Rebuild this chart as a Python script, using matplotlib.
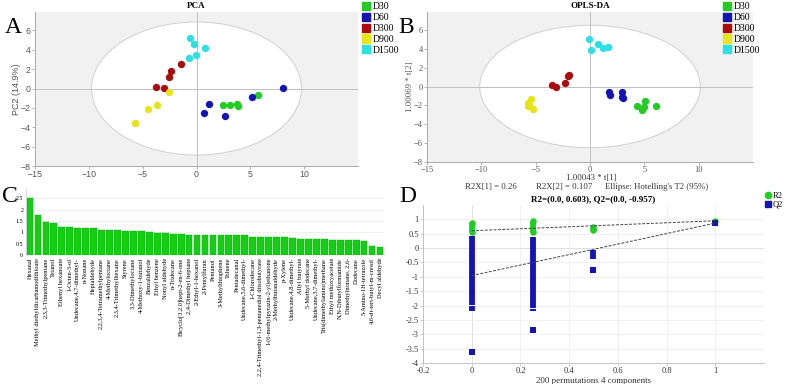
import matplotlib
matplotlib.use("Agg")
import matplotlib.pyplot as plt
import numpy as np
from matplotlib.patches import Ellipse, Patch
from matplotlib.lines import Line2D

# ---- data ----
groups = ["D30", "D60", "D300", "D900", "D1500"]
group_colors = ["#22cc22", "#1414b4", "#a80c0c", "#e8e41c", "#2ce0e4"]

# PCA scores (t1, t2) per group
pca_x = {
    "D30": [2.5, 3.12, 3.73, 3.89, 5.68],
    "D60": [1.2, 0.74, 2.65, 5.15, 8.02],
    "D300": [-1.48, -2.35, -2.56, -3.8, -3.0],
    "D900": [-2.56, -3.64, -4.5, -5.7, -5.75],
    "D1500": [-0.59, -0.28, 0.83, -0.09, -0.74],
}
pca_y = {
    "D30": [-1.7, -1.7, -1.57, -1.78, -0.71],
    "D60": [-1.64, -2.5, -2.8, -0.91, 0.01],
    "D300": [2.52, 1.77, 1.18, 0.19, 0.08],
    "D900": [-0.33, -1.67, -2.12, -3.6, -3.55],
    "D1500": [5.2, 4.55, 4.2, 3.42, 3.14],
}

# OPLS-DA scores
opls_x = {
    "D30": [4.29, 5.09, 5.0, 4.82, 6.04],
    "D60": [1.78, 1.81, 2.9, 3.04, 2.98],
    "D300": [-2.0, -1.96, -3.5, -3.1, -2.27],
    "D900": [-5.46, -5.74, -5.67, -5.28, -5.6],
    "D1500": [-0.06, 0.7, 0.12, 1.17, 1.63],
}
opls_y = {
    "D30": [-2.02, -1.49, -2.16, -2.48, -2.06],
    "D60": [-0.53, -0.89, -0.6, -1.24, -1.06],
    "D300": [1.13, 1.24, 0.14, -0.1, 0.35],
    "D900": [-1.31, -1.7, -2.09, -2.41, -1.9],
    "D1500": [5.03, 4.47, 3.83, 4.08, 4.22],
}

# VIP values
vip_names = [
    "Hexanal", "Methyl diethyldicarbamodithioate", "2,3,3-Trimethylpentane", "Tetanol",
    "Ethenyl hexanoate", "1-Octen-3-ol", "Undecane,4,7-dimethyl-", "n-Nonane",
    "Heptaldehyde", "2,2,3,4-Tetramethylpentane", "4-Methyloctane", "2,3,4-Trimethylhexane",
    "Styrene", "3,3-Dimethyloctane", "4-Methoxy-1-butanol", "Benzaldehyde",
    "Ethyl benzene", "Nonyl aldehyde", "n-Tridecane", "Bicyclo[3.2.0]hept-2-en-6-one",
    "2,4-Dimethyl heptane", "2-Ethyl-1-hexanol", "2-Pentylfuran", "Pentanol",
    "3-Methylthiophene", "Toluene", "Pentadecanal", "Undecane,5,6-dimethyl-",
    "1-Chlorodecane", "2,2,4-Trimethyl-1,3-pentanediol diisobutyrate",
    "1-(6-methylpyrazin-2-yl)ethanone", "2-Methylbutanaldehyde", "p-Xylene",
    "Undecane,4,8-dimethyl-", "Allyl butyrate", "5-Methyl dodecane",
    "Undecane,3,7-dimethyl-", "Tris(dimethylamino)methane", "Ethyl methoxyacetate",
    "N,N-Dibutylformamide", "Dimethylnonane, 2,6-", "Dodecane", "5-Amino-1H-tetrazole",
    "4,6-di-tert-butyl-m-cresol", "Decyl aldehyde",
]
vip_values = [
    2.52, 1.77, 1.47, 1.41, 1.24, 1.22, 1.20, 1.19, 1.18, 1.12, 1.10, 1.09,
    1.04, 1.04, 1.04, 1.00, 0.98, 0.97, 0.94, 0.91, 0.90, 0.89, 0.89, 0.88,
    0.87, 0.87, 0.86, 0.86, 0.81, 0.80, 0.78, 0.77, 0.77, 0.73, 0.72, 0.71,
    0.69, 0.69, 0.68, 0.67, 0.65, 0.64, 0.63, 0.39, 0.36,
]

# permutation test: dense columns given as (x, low, high), plus single points
r2_cols_x = [0, 0.25]
r2_cols_low = [0.56, 0.55]
r2_cols_high = [0.86, 0.95]
r2_pts_x = [0.5, 0.5, 0.5, 1.0]
r2_pts_y = [0.62, 0.66, 0.72, 0.95]
q2_cols_x = [0, 0, 0.25, 0.25, 0.5]
q2_cols_low = [-1.97, -2.2, -2.07, -2.2, -0.38]
q2_cols_high = [0.42, -2.03, 0.38, -2.12, -0.05]
q2_pts_x = [0, 0.25, 0.5, 1.0]
q2_pts_y = [-3.63, -2.85, -0.75, 0.87]
r2_intercept, q2_intercept = 0.603, -0.957
r2_end, q2_end = 0.95, 0.87

SERIF = "Liberation Serif"
SANS = "Liberation Sans"
GRAY = "#555555"

fig = plt.figure(figsize=(7.88, 3.84), dpi=100)


def score_panel(ax, xs, ys, ell_w, ell_h, tick_family, tick_size):
    ax.set_facecolor("#f1f1f1")
    ax.add_patch(Ellipse((0, 0), 2 * ell_w, 2 * ell_h, facecolor="white",
                         edgecolor="#d0d0d0", lw=0.7, zorder=1))
    ax.axhline(0, color="#c0c0c0", lw=0.7, zorder=2)
    ax.axvline(0, color="#c0c0c0", lw=0.7, zorder=2)
    for g, c in zip(groups, group_colors):
        ax.scatter(xs[g], ys[g], s=28, color=c, zorder=3, linewidths=0)
    ax.set_xlim(-15, 15)
    ax.set_ylim(-8, 7.9)
    ax.set_xticks([-15, -10, -5, 0, 5, 10])
    ax.set_yticks([-8, -6, -4, -2, 0, 2, 4, 6])
    for s in ["top", "right"]:
        ax.spines[s].set_visible(False)
    for s in ["left", "bottom"]:
        ax.spines[s].set_color("#aaaaaa")
        ax.spines[s].set_linewidth(0.7)
    ax.tick_params(length=2, width=0.6, color="#aaaaaa", labelsize=tick_size,
                   labelcolor=GRAY, pad=1)
    for lab in ax.get_xticklabels() + ax.get_yticklabels():
        lab.set_family(tick_family)


def group_legend(x, y):
    handles = [Patch(facecolor=c, edgecolor=c) for c in group_colors]
    fig.legend(handles, groups, loc="upper left", bbox_to_anchor=(x, y),
               frameon=False, prop={"family": SERIF, "size": 7},
               handlelength=0.9, handleheight=0.9, handletextpad=0.2,
               labelspacing=0.15, borderpad=0, borderaxespad=0)


# ---- A: PCA ----
axA = fig.add_axes([0.0444, 0.5677, 0.41, 0.401])
score_panel(axA, pca_x, pca_y, 9.75, 6.87, SANS, 6.3)
axA.set_ylabel("PC2 (14.9%)", family=SANS, fontsize=6.5, color=GRAY, labelpad=0)
axA.set_title("PCA", family=SERIF, fontsize=6.5, fontweight="bold", pad=3)
group_legend(0.459, 0.995)
fig.text(0.006, 0.955, "A", family=SERIF, fontsize=17, va="top")

# ---- B: OPLS-DA ----
axB = fig.add_axes([0.5419, 0.578, 0.4137, 0.391])
score_panel(axB, opls_x, opls_y, 10.15, 6.48, SERIF, 6.0)
axB.set_ylabel("1.00069 * t[2]", family=SERIF, fontsize=6.3, color=GRAY, labelpad=0)
axB.set_title("OPLS-DA", family=SERIF, fontsize=6.5, fontweight="bold", pad=3)
group_legend(0.917, 0.995)
fig.text(0.506, 0.955, "B", family=SERIF, fontsize=17, va="top")
fig.text(0.75, 1 - 178 / 384, "1.00043 * t[1]", family=SERIF, fontsize=6.3,
         color="#333333", ha="center", va="center")
for xt, t in [(0.623, "R2X[1] = 0.26"), (0.716, "R2X[2] = 0.107"),
              (0.833, "Ellipse: Hotelling's T2 (95%)")]:
    fig.text(xt, 1 - 187 / 384, t, family=SERIF, fontsize=6.3, color="#333333",
             ha="center", va="center")

# ---- C: VIP bars ----
axC = fig.add_axes([0.033, 0.336, 0.4543, 0.1745])
pos = np.arange(len(vip_values))
axC.bar(pos, vip_values, width=0.85, color="#17cc17", edgecolor="#0da80d",
        linewidth=0.3, zorder=2)
axC.set_xlim(-0.5, len(vip_values) - 0.5)
axC.set_ylim(0, 2.95)
axC.set_yticks([0, 0.5, 1, 1.5, 2, 2.5])
axC.set_yticklabels(["0", "0.5", "1", "1.5", "2", "2.5"])
axC.yaxis.grid(True, color="#ececec", lw=0.5, zorder=0)
axC.set_xticks(pos)
axC.set_xticklabels(vip_names, rotation=90, family=SERIF, fontsize=4.6)
for s in ["top", "right", "bottom"]:
    axC.spines[s].set_visible(False)
axC.spines["left"].set_color("#cccccc")
axC.spines["left"].set_linewidth(0.5)
axC.tick_params(axis="x", length=0, pad=2)
axC.tick_params(axis="y", length=0, labelsize=4.3, pad=2)
for lab in axC.get_yticklabels():
    lab.set_family(SERIF)
fig.text(0.002, 0.515, "C", family=SERIF, fontsize=17, va="top")

# ---- D: permutation test ----
axD = fig.add_axes([0.5368, 0.0547, 0.4327, 0.4115])
axD.grid(True, color="#ececec", lw=0.5, zorder=0)
axD.axhline(0, color="#c8c8c8", lw=0.7, zorder=1)
axD.axvline(0, color="#c8c8c8", lw=0.7, zorder=1)
axD.vlines(r2_cols_x, r2_cols_low, r2_cols_high, color="#22cc22", lw=4.2, zorder=3)
axD.scatter(r2_cols_x + r2_cols_x, r2_cols_low + r2_cols_high, s=22, marker="o",
            color="#22cc22", linewidths=0, zorder=3)
axD.scatter(r2_pts_x, r2_pts_y, s=22, marker="o", color="#22cc22", linewidths=0, zorder=3)
axD.vlines(q2_cols_x, q2_cols_low, q2_cols_high, color="#1414b4", lw=4.2, zorder=4)
axD.scatter(q2_pts_x, q2_pts_y, s=20, marker="s", color="#1414b4", linewidths=0, zorder=4)
axD.plot([0, 1], [r2_intercept, r2_end], ls=(0, (3, 1.5)), color="#444444", lw=0.7, zorder=5)
axD.plot([0, 1], [q2_intercept, q2_end], ls=(0, (3, 1.5)), color="#444444", lw=0.7, zorder=5)
axD.set_xlim(-0.2, 1.2)
axD.set_ylim(-4, 1.5)
axD.set_xticks([-0.2, 0, 0.2, 0.4, 0.6, 0.8, 1])
axD.set_xticklabels(["-0.2", "0", "0.2", "0.4", "0.6", "0.8", "1"])
axD.set_yticks([-4, -3.5, -3, -2.5, -2, -1.5, -1, -0.5, 0, 0.5, 1])
axD.set_yticklabels(["-4", "-3.5", "-3", "-2.5", "-2", "-1.5", "-1", "-0.5", "0", "0.5", "1"])
for s in ["top", "right"]:
    axD.spines[s].set_visible(False)
for s in ["left", "bottom"]:
    axD.spines[s].set_color("#bbbbbb")
    axD.spines[s].set_linewidth(0.6)
axD.tick_params(length=2, width=0.5, color="#bbbbbb", labelsize=6, labelcolor="#333333", pad=1)
for lab in axD.get_xticklabels() + axD.get_yticklabels():
    lab.set_family(SERIF)
axD.set_xlabel("200 permutations 4 components", family=SERIF, fontsize=6.5,
               color="#333333", labelpad=1)
axD.set_title("R2=(0.0, 0.603), Q2=(0.0, -0.957)", family=SERIF, fontsize=6.5,
              fontweight="bold", pad=3)
handles = [Line2D([], [], marker="o", ls="", color="#22cc22", markersize=4.5),
           Line2D([], [], marker="s", ls="", color="#1414b4", markersize=4.5)]
fig.legend(handles, ["R2", "Q2"], loc="upper left", bbox_to_anchor=(0.972, 0.5),
           frameon=False, prop={"family": SERIF, "size": 6},
           handlelength=0.6, handletextpad=0.2, labelspacing=0.1,
           borderpad=0, borderaxespad=0)
fig.text(0.507, 0.515, "D", family=SERIF, fontsize=17, va="top")

fig.savefig("out.png", dpi=100)
